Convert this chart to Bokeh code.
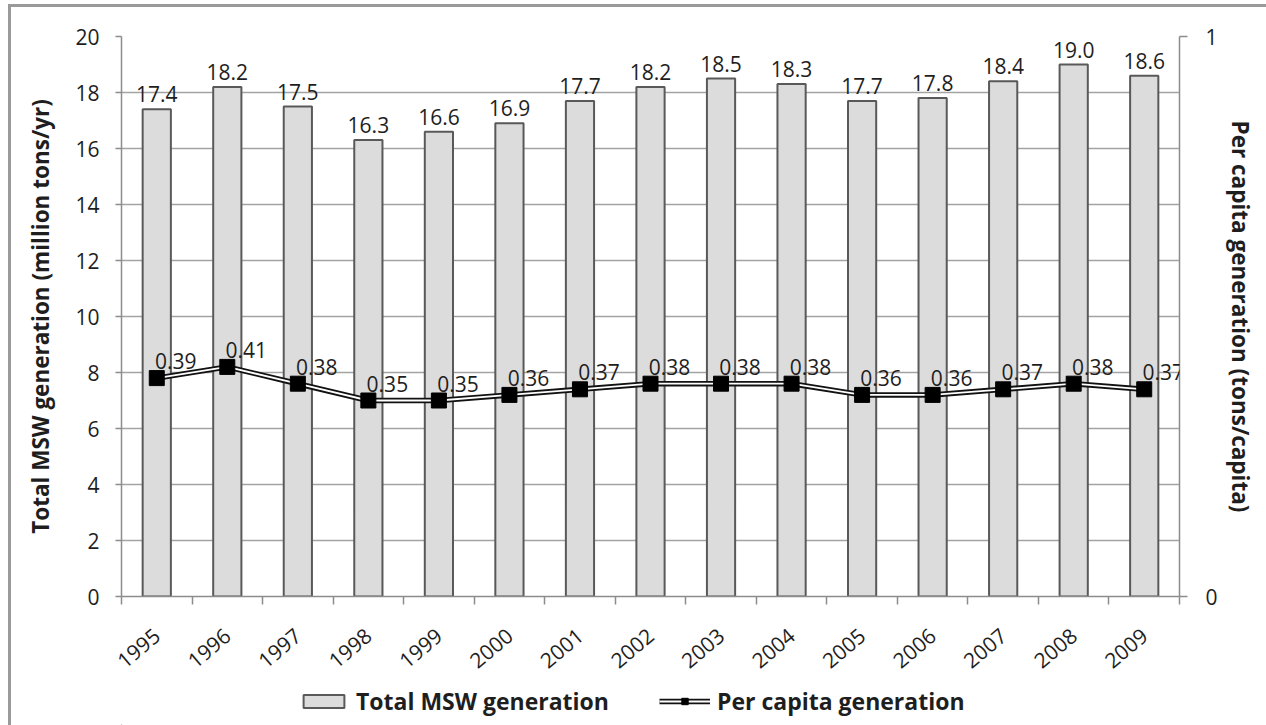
from bokeh.plotting import figure
from bokeh.layouts import column
from bokeh.models import (Range1d, LinearAxis, FixedTicker, ColumnDataSource,
                          LabelSet, Legend, LegendItem, InlineStyleSheet)
from bokeh.core.properties import value
from bokeh.embed import file_html
from bokeh.resources import INLINE

# Municipal solid waste generation, 1995-2009
years = ["1995", "1996", "1997", "1998", "1999", "2000", "2001", "2002",
         "2003", "2004", "2005", "2006", "2007", "2008", "2009"]
total_msw = [17.4, 18.2, 17.5, 16.3, 16.6, 16.9, 17.7, 18.2,
             18.5, 18.3, 17.7, 17.8, 18.4, 19.0, 18.6]
per_capita = [0.39, 0.41, 0.38, 0.35, 0.35, 0.36, 0.37, 0.38,
              0.38, 0.38, 0.36, 0.36, 0.37, 0.38, 0.37]
left_ticks = [0, 2, 4, 6, 8, 10, 12, 14, 16, 18, 20]
right_ticks = [0, 1]

FONT = "Open Sans"
TEXT = "#1e1e1e"
GRID = "#a3a3a3"
AXIS = "#8c8c8c"
FRAME = "#9a9a9a"
BAR_FILL = "#dcdcdc"
BAR_LINE = "#595959"

n = len(years)
centers = [i + 0.5 for i in range(n)]
source = ColumnDataSource(dict(
    x=centers,
    total=total_msw,
    total_txt=[f"{v:.1f}" for v in total_msw],
    pc=per_capita,
    pc_txt=[f"{v:.2f}" for v in per_capita],
))

p = figure(width=1266, height=684, output_backend="svg", toolbar_location=None,
           x_range=Range1d(0, n), y_range=Range1d(0, 20),
           min_border_left=121, min_border_right=87,
           min_border_top=36, min_border_bottom=88)
p.extra_y_ranges = {"pc": Range1d(0, 1)}
p.outline_line_color = None
p.background_fill_color = "white"
p.border_fill_color = "white"

# gridlines
ytick = FixedTicker(ticks=left_ticks)
p.yaxis.ticker = ytick
p.ygrid.ticker = ytick
p.ygrid.grid_line_color = GRID
p.ygrid.grid_line_width = 1.5
p.xgrid.visible = False

# left axis
ya = p.yaxis[0]
ya.axis_label = "Total MSW generation (million tons/yr)"
ya.axis_label_text_font = FONT
ya.axis_label_text_font_style = "bold"
ya.axis_label_text_font_size = "22.5px"
ya.axis_label_text_color = TEXT
ya.axis_label_standoff = 16
ya.major_label_text_font = FONT
ya.major_label_text_font_size = "21px"
ya.major_label_text_color = TEXT
ya.major_label_standoff = 16
ya.axis_line_color = AXIS
ya.axis_line_width = 1.5
ya.major_tick_line_color = AXIS
ya.major_tick_line_width = 1.5
ya.major_tick_out = 6
ya.major_tick_in = 0
ya.minor_tick_line_color = None

# category axis: labels at centres, tick marks at category boundaries
xa = p.xaxis[0]
xa.ticker = FixedTicker(ticks=centers, minor_ticks=list(range(n + 1)))
xa.major_label_overrides = {c: y for c, y in zip(centers, years)}
xa.major_label_orientation = 0.70
xa.major_label_text_font = FONT
xa.major_label_text_font_size = "21px"
xa.major_label_text_color = TEXT
xa.major_label_standoff = 28
xa.major_tick_line_color = None
xa.minor_tick_line_color = AXIS
xa.minor_tick_line_width = 1.5
xa.minor_tick_out = 8
xa.minor_tick_in = 0
xa.axis_line_color = AXIS
xa.axis_line_width = 1.5

# right axis
ra = LinearAxis(y_range_name="pc", ticker=FixedTicker(ticks=right_ticks))
ra.axis_label = "Per capita generation (tons/capita)"
ra.axis_label_text_font = FONT
ra.axis_label_text_font_style = "bold"
ra.axis_label_text_font_size = "22.5px"
ra.axis_label_text_color = TEXT
ra.axis_label_standoff = 4
ra.major_label_text_font = FONT
ra.major_label_text_font_size = "21px"
ra.major_label_text_color = TEXT
ra.major_label_standoff = 18
ra.axis_line_color = AXIS
ra.axis_line_width = 1.5
ra.major_tick_line_color = AXIS
ra.major_tick_line_width = 1.5
ra.major_tick_out = 8
ra.major_tick_in = 0
ra.minor_tick_line_color = None
p.add_layout(ra, "right")

# bars
p.vbar(x="x", top="total", width=0.4, bottom=0, source=source,
       fill_color=BAR_FILL, line_color=BAR_LINE, line_width=2)

# per-capita line: dark outer stroke with a light core, square markers
LINE_OUTER = dict(line_color="#111111", line_width=5.5)
LINE_INNER = dict(line_color="white", line_width=1.8)
MARK = dict(marker="square", size=15, fill_color="black", line_color="black")
p.line(x="x", y="pc", source=source, y_range_name="pc", **LINE_OUTER)
p.line(x="x", y="pc", source=source, y_range_name="pc", **LINE_INNER)
p.scatter(x="x", y="pc", source=source, y_range_name="pc", **MARK)

# data labels
p.add_layout(LabelSet(x="x", y="total", text="total_txt", source=source,
                      text_align="center", text_baseline="bottom", y_offset=7,
                      text_font=value(FONT), text_font_size=value("21px"),
                      text_color=TEXT))
p.add_layout(LabelSet(x="x", y="pc", text="pc_txt", source=source, y_range_name="pc",
                      text_align="center", text_baseline="bottom",
                      x_offset=19, y_offset=9,
                      text_font=value(FONT), text_font_size=value("21px"),
                      text_color=TEXT))

# legend strip beneath the chart; its key glyphs sit outside the visible range
lg = figure(width=1266, height=41, output_backend="svg", toolbar_location=None,
            x_range=Range1d(0, 1), y_range=Range1d(0, 1),
            x_axis_type=None, y_axis_type=None,
            min_border_left=0, min_border_right=0, min_border_top=0, min_border_bottom=0)
lg.outline_line_color = None
lg.xgrid.visible = False
lg.ygrid.visible = False
lg.border_fill_color = "white"
key_src = ColumnDataSource(dict(x=[-5.0, -4.0], y=[-5.0, -5.0]))
k_bar = lg.vbar(x="x", top="y", width=0.4, source=key_src,
                fill_color=BAR_FILL, line_color=BAR_LINE, line_width=2)
k_out = lg.line(x="x", y="y", source=key_src, **LINE_OUTER)
k_in = lg.line(x="x", y="y", source=key_src, **LINE_INNER)
k_mk = lg.scatter(x="x", y="y", source=key_src, **MARK)

legend = Legend(items=[
    LegendItem(label="Total MSW generation", renderers=[k_bar]),
    LegendItem(label="Per capita generation", renderers=[k_out, k_in, k_mk]),
], orientation="horizontal", location=(177, 8), padding=0, margin=0,
    spacing=50, label_standoff=7, glyph_width=51, glyph_height=16,
    border_line_color=None, background_fill_alpha=0,
    label_text_font=FONT, label_text_font_style="bold",
    label_text_font_size="23px", label_text_color=TEXT)
lg.add_layout(legend)

# chart border along the top and left edges, drawn over the canvases
layout = column(p, lg, spacing=0, stylesheets=[InlineStyleSheet(css=f"""
:host {{ position: relative; }}
:host::after {{
  content: "";
  position: absolute;
  left: 8px; top: 4px; right: 0; bottom: 0;
  border-left: 3px solid {FRAME};
  border-top: 3px solid {FRAME};
  pointer-events: none;
  z-index: 100;
}}
""")])

open("out.html", "w").write(file_html(layout, INLINE))
